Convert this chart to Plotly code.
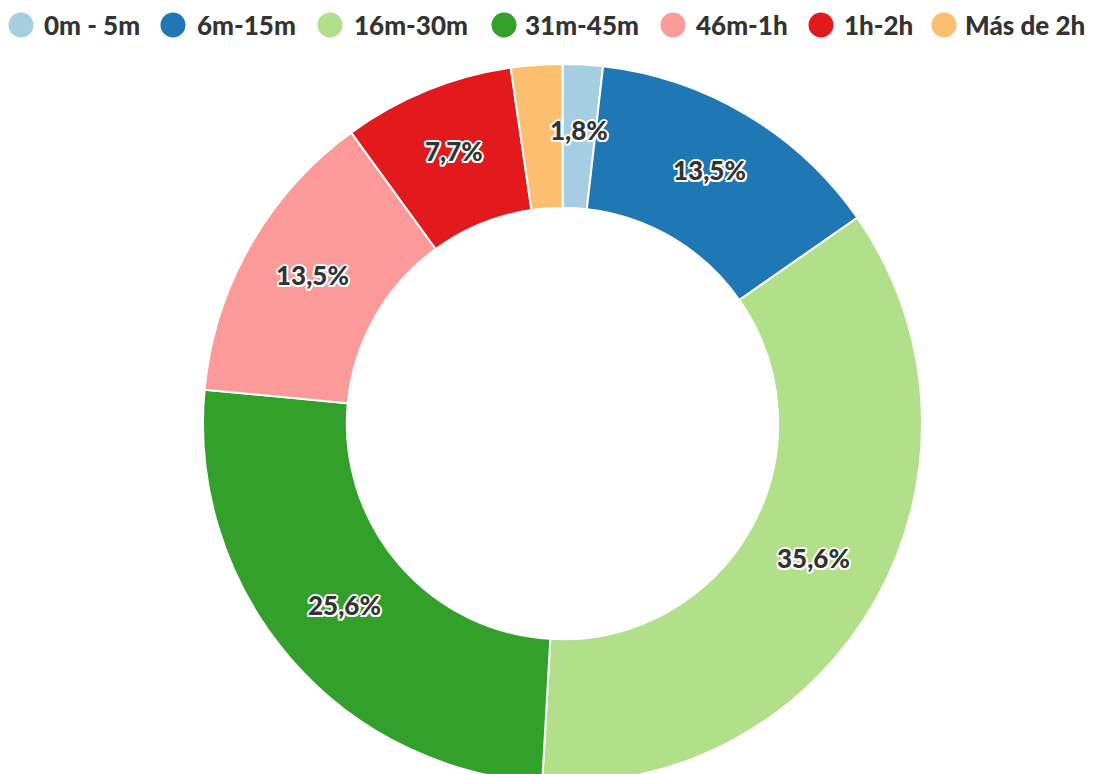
import math
import plotly.graph_objects as go

# Travel-time buckets and their share of respondents (%)
categories = ["0m - 5m", "6m-15m", "16m-30m", "31m-45m", "46m-1h", "1h-2h", "Más de 2h"]
shares = [1.8, 13.5, 35.6, 25.6, 13.5, 7.7, 2.3]
show_label = [True, True, True, True, True, True, False]
colors = ["#a6cee3", "#1f78b4", "#b2df8a", "#33a02c", "#fb9a99", "#e31a1c", "#fdbf6f"]

W, H = 1103, 800
HOLE = 0.6
DOM_X = [203 / W, 922 / W]
DOM_Y = [1 - 783 / H, 1 - 64 / H]
FONT = "Lato, 'Source Sans Pro', 'Open Sans', sans-serif"
TEXT_COLOR = "#333333"
HALO = ("2px 0px 0px white, -2px 0px 0px white, 0px 2px 0px white, 0px -2px 0px white, "
        "1.5px 1.5px 0px white, -1.5px -1.5px 0px white, 1.5px -1.5px 0px white, -1.5px 1.5px 0px white")

fig = go.Figure()
fig.add_trace(go.Pie(
    labels=categories,
    values=shares,
    hole=HOLE,
    sort=False,
    direction="clockwise",
    rotation=0,
    marker=dict(colors=colors, line=dict(color="white", width=2)),
    textinfo="none",
    domain=dict(x=DOM_X, y=DOM_Y),
    showlegend=False,
    hoverinfo="label+percent",
))

# Slice labels: placed at the angular middle of each slice, halfway across the ring
cx = (DOM_X[0] + DOM_X[1]) / 2 * W
cy = (1 - (DOM_Y[0] + DOM_Y[1]) / 2) * H
R = min((DOM_X[1] - DOM_X[0]) * W, (DOM_Y[1] - DOM_Y[0]) * H) / 2
r_mid = R * (1 + HOLE) / 2
total = sum(shares)
cum = 0.0
annotations = []
for cat, v, show in zip(categories, shares, show_label):
    ang = 2 * math.pi * (cum + v / 2) / total
    cum += v
    if not show:
        continue
    px = cx + r_mid * math.sin(ang)
    py = cy - r_mid * math.cos(ang)
    annotations.append(dict(
        x=px / W, y=1 - py / H, xref="paper", yref="paper",
        text=f"{v:.1f}%".replace(".", ","),
        showarrow=False, xanchor="center", yanchor="middle", yshift=6,
        font=dict(family=FONT, size=26, color=TEXT_COLOR, weight=900, shadow=HALO),
    ))

# Legend row across the top: coloured dot followed by bold label
dot_x = [21, 173, 330, 504, 673, 821, 944]
text_x = [42, 195, 352, 523, 694, 842, 963]
legend_y = 25
dot_r = 12.5
shapes = []
for cat, col, dx, tx in zip(categories, colors, dot_x, text_x):
    shapes.append(dict(
        type="circle", xref="paper", yref="paper",
        x0=(dx - dot_r) / W, x1=(dx + dot_r) / W,
        y0=1 - (legend_y + dot_r) / H, y1=1 - (legend_y - dot_r) / H,
        fillcolor=col, line=dict(width=0),
    ))
    annotations.append(dict(
        x=tx / W, y=1 - legend_y / H, xref="paper", yref="paper",
        text=cat, showarrow=False, xanchor="left", yanchor="middle",
        font=dict(family=FONT, size=26, color=TEXT_COLOR, weight=900),
    ))

fig.update_layout(
    width=W, height=H,
    margin=dict(l=0, r=0, t=0, b=0),
    paper_bgcolor="white",
    plot_bgcolor="white",
    annotations=annotations,
    shapes=shapes,
)

fig.write_html("out.html", post_script="document.body.style.margin='0';document.body.style.overflow='hidden';")
